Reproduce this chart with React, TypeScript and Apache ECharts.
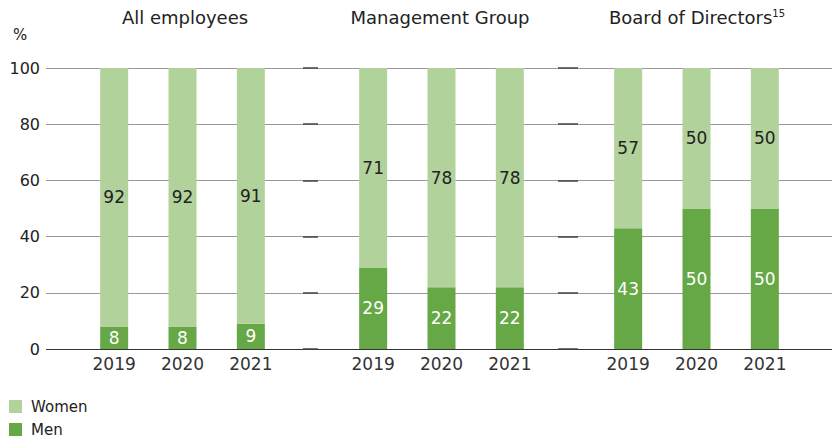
import React, { useEffect, useRef } from "react";
import * as echarts from "echarts";

const years = ["2019", "2020", "2021"];
const groups = ["All employees", "Management Group", "Board of Directors"];
const men = [
  [8, 8, 9],
  [29, 22, 22],
  [43, 50, 50],
];
const women = [
  [92, 92, 91],
  [71, 78, 78],
  [57, 50, 50],
];
const yTicks = [0, 20, 40, 60, 80, 100];
const separators = [
  [257, 272],
  [512, 532],
];

const WOMEN = "#b2d29b";
const MEN = "#66a845";
const FONT = "'DejaVu Sans', sans-serif";

export default function App() {
  const ref = useRef<HTMLDivElement>(null);
  useEffect(() => {
    if (!ref.current) return;
    const chart = echarts.init(ref.current, null, { renderer: "svg" });
    const top = 68;
    const bottom = 90;
    const groupLefts = [80, 339, 594];
    const groupWidth = 205;
    const grids: any[] = [{ left: 46, right: 0, top, bottom }];
    const xAxes: any[] = [
      { gridIndex: 0, type: "value", min: 0, max: 786, show: false },
    ];
    const yAxes: any[] = [
      {
        gridIndex: 0,
        type: "value",
        min: 0,
        max: 100,
        interval: 20,
        axisLine: { show: false },
        axisTick: { show: false },
        axisLabel: { color: "#222", fontSize: 16, fontFamily: FONT, margin: 6 },
        splitLine: {
          lineStyle: { color: ["#333", "#999", "#999", "#999", "#999", "#999"], width: 1 },
        },
      },
    ];
    const series: any[] = [
      {
        type: "line",
        xAxisIndex: 0,
        yAxisIndex: 0,
        data: [],
        silent: true,
        markLine: {
          silent: true,
          symbol: "none",
          label: { show: false },
          lineStyle: { color: "#444", width: 1.5, type: "solid" },
          data: separators.flatMap(([a, b]) =>
            yTicks.map((v) => [{ coord: [a, v] }, { coord: [b, v] }])
          ),
        },
      },
    ];
    groupLefts.forEach((left, g) => {
      const gi = g + 1;
      grids.push({ left, width: groupWidth, top, bottom });
      xAxes.push({
        gridIndex: gi,
        type: "category",
        data: years,
        axisLine: { show: false },
        axisTick: { show: false },
        axisLabel: { color: "#333", fontSize: 17, fontFamily: FONT, margin: 6 },
      });
      yAxes.push({ gridIndex: gi, type: "value", min: 0, max: 100, show: false });
      series.push({
        name: "Men",
        type: "bar",
        stack: "s" + g,
        xAxisIndex: gi,
        yAxisIndex: gi,
        barWidth: 28,
        data: men[g],
        itemStyle: { color: MEN },
        label: { show: true, position: "inside", color: "#fff", fontSize: 17, fontFamily: FONT },
      });
      series.push({
        name: "Women",
        type: "bar",
        stack: "s" + g,
        xAxisIndex: gi,
        yAxisIndex: gi,
        barWidth: 28,
        data: women[g],
        itemStyle: { color: WOMEN },
        label: { show: true, position: "inside", color: "#222", fontSize: 17, fontFamily: FONT },
      });
    });

    const titleCenters = [180, 435, 692];
    const titles: any[] = groups.map((t, i) => ({
      text: i === 2 ? "{a|" + t + "}{s|15}" : t,
      left: titleCenters[i],
      top: 3,
      textAlign: "center",
      textStyle: {
        fontSize: 18,
        fontWeight: "normal",
        color: "#222",
        fontFamily: FONT,
        rich: {
          a: { fontSize: 18, color: "#222", fontFamily: FONT },
          s: { fontSize: 10, color: "#222", fontFamily: FONT, verticalAlign: "top", padding: [0, 0, 8, 0] },
        },
      },
    }));
    titles.push({
      text: "%",
      left: 8,
      top: 22,
      textStyle: { fontSize: 15, fontWeight: "normal", color: "#222", fontFamily: FONT },
    });

    chart.setOption({
      animation: false,
      title: titles,
      grid: grids,
      xAxis: xAxes,
      yAxis: yAxes,
      legend: {
        data: ["Women", "Men"],
        orient: "vertical",
        left: 9,
        top: 399,
        padding: 0,
        icon: "rect",
        itemWidth: 13,
        itemHeight: 13,
        itemGap: 8,
        textStyle: { fontSize: 15, color: "#222", fontFamily: FONT, padding: [0, 0, 0, 4] },
      },
      series,
    });
    return () => chart.dispose();
  }, []);
  return <div ref={ref} style={{ width: 832, height: 439, position: "absolute", left: 0, top: 0 }} />;
}
